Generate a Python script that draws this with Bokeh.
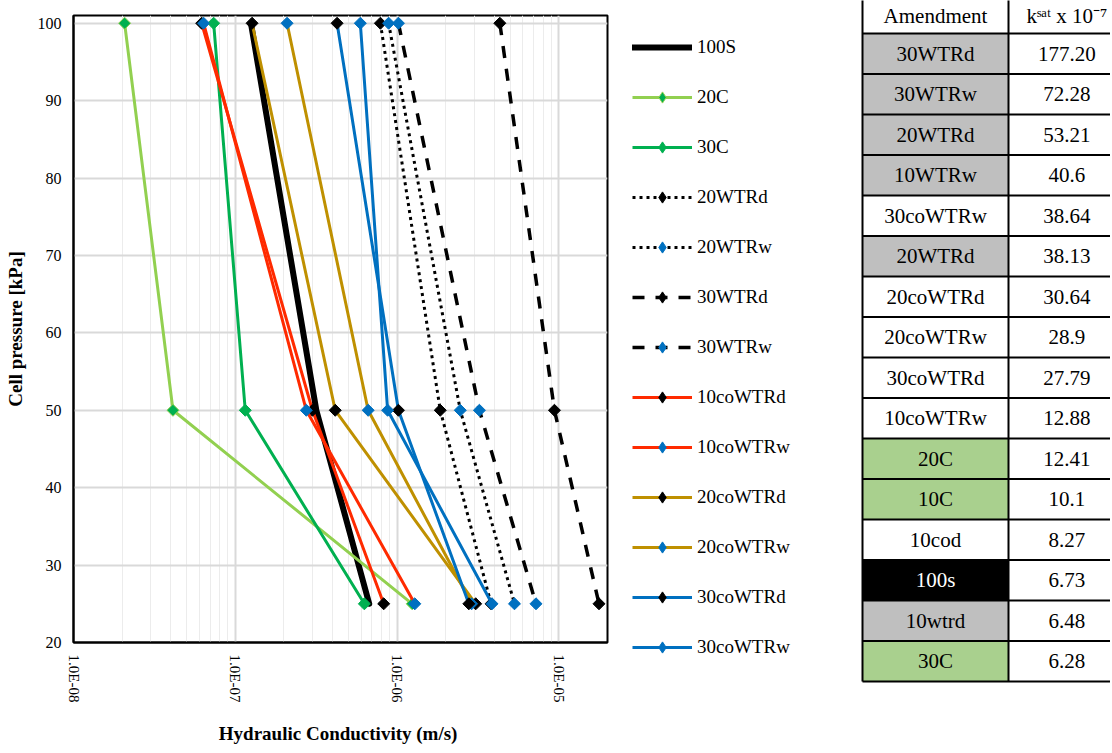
import numpy as np
from bokeh.plotting import figure
from bokeh.models import (Range1d, FixedTicker, CustomJSTickFormatter, Legend,
                          LegendItem, ColumnDataSource)
from bokeh.layouts import row, column
from bokeh.embed import file_html
from bokeh.resources import INLINE
from bokeh.core.properties import value

# ---------------- data ----------------
pressure = [100, 50, 25]  # kPa

series_names = ["100S", "20C", "30C", "20WTRd", "20WTRw", "30WTRd", "30WTRw",
                "10coWTRd", "10coWTRw", "20coWTRd", "20coWTRw", "30coWTRd", "30coWTRw"]

k_100S = [1.25e-7, 3.17e-7, 6.73e-7]
k_20C = [2.07e-8, 4.12e-8, 1.241e-6]
k_30C = [7.35e-8, 1.153e-7, 6.28e-7]
k_20WTRd = [7.89e-7, 1.85e-6, 3.813e-6]
k_20WTRw = [8.87e-7, 2.46e-6, 5.321e-6]
k_30WTRd = [4.32e-6, 9.4e-6, 1.772e-5]
k_30WTRw = [1.02e-6, 3.23e-6, 7.228e-6]
k_10coWTRd = [6.2e-8, 3.0e-7, 8.27e-7]
k_10coWTRw = [6.37e-8, 2.75e-7, 1.288e-6]
k_20coWTRd = [1.27e-7, 4.15e-7, 3.064e-6]
k_20coWTRw = [2.09e-7, 6.63e-7, 2.89e-6]
k_30coWTRd = [4.26e-7, 1.02e-6, 2.779e-6]
k_30coWTRw = [5.93e-7, 8.75e-7, 3.864e-6]

series_values = [k_100S, k_20C, k_30C, k_20WTRd, k_20WTRw, k_30WTRd, k_30WTRw,
                 k_10coWTRd, k_10coWTRw, k_20coWTRd, k_20coWTRw, k_30coWTRd, k_30coWTRw]

y_ticks = [20, 30, 40, 50, 60, 70, 80, 90, 100]
x_ticks = [1e-8, 1e-7, 1e-6, 1e-5]

table_amendment = ["30WTRd", "30WTRw", "20WTRd", "10WTRw", "30coWTRw", "20WTRd",
                   "20coWTRd", "20coWTRw", "30coWTRd", "10coWTRw", "20C", "10C",
                   "10cod", "100s", "10wtrd", "30C"]
table_ksat = ["177.20", "72.28", "53.21", "40.6", "38.64", "38.13", "30.64", "28.9",
              "27.79", "12.88", "12.41", "10.1", "8.27", "6.73", "6.48", "6.28"]
table_group = ["gray", "gray", "gray", "gray", "none", "gray", "none", "none", "none",
               "none", "green", "green", "none", "black", "gray", "green"]

# ---------------- styles ----------------
BLACK = "#000000"
LGREEN = "#92D050"
GREEN = "#00B050"
RED = "#FF2A00"
GOLD = "#BF9000"
BLUE = "#0070C0"

styles = {
    "100S":     dict(color=BLACK, width=6, dash="solid", mfill=None, mline=None),
    "20C":      dict(color=LGREEN, width=3, dash="solid", mfill=GREEN, mline=LGREEN),
    "30C":      dict(color=GREEN, width=3, dash="solid", mfill=GREEN, mline=GREEN),
    "20WTRd":   dict(color=BLACK, width=3, dash="3 4", mfill=BLACK, mline=BLACK),
    "20WTRw":   dict(color=BLACK, width=3, dash="3 4", mfill=BLUE, mline=BLUE),
    "30WTRd":   dict(color=BLACK, width=3.5, dash="12 11", mfill=BLACK, mline=BLACK),
    "30WTRw":   dict(color=BLACK, width=3.5, dash="12 11", mfill=BLUE, mline=BLUE),
    "10coWTRd": dict(color=RED, width=3, dash="solid", mfill=BLACK, mline=BLACK),
    "10coWTRw": dict(color=RED, width=3, dash="solid", mfill=BLUE, mline=BLUE),
    "20coWTRd": dict(color=GOLD, width=3, dash="solid", mfill=BLACK, mline=BLACK),
    "20coWTRw": dict(color=GOLD, width=3, dash="solid", mfill=BLUE, mline=BLUE),
    "30coWTRd": dict(color=BLUE, width=3, dash="solid", mfill=BLACK, mline=BLACK),
    "30coWTRw": dict(color=BLUE, width=3, dash="solid", mfill=BLUE, mline=BLUE),
}
fill_colors = {"gray": "#BFBFBF", "green": "#A9D08E", "black": "#000000", "none": "#FFFFFF"}
text_colors = {"gray": "#000000", "green": "#000000", "black": "#FFFFFF", "none": "#000000"}

SERIF = "Liberation Serif"

FIG_H = 750
MAIN_W = 612
LEG_W = 243
TAB_W = 255
BORDER_TOP = 15
BORDER_BOTTOM = 108
BORDER_LEFT = 73
FRAME_W = 534
ROW_PX = 40.5          # table row height in pixels
HEADER_LINE_PX = 33    # header bottom border, px from top


def line_kwargs(name):
    st = styles[name]
    return dict(line_color=st["color"], line_width=st["width"], line_dash=st["dash"],
                line_cap="round" if name == "100S" else "butt", line_join="round")


# ---------------- main chart ----------------
p = figure(width=MAIN_W, height=FIG_H, x_axis_type="log",
           x_range=Range1d(1e-8, 2e-5), y_range=Range1d(20, 101),
           toolbar_location=None, output_backend="svg",
           min_border_left=BORDER_LEFT, min_border_top=BORDER_TOP,
           min_border_right=MAIN_W - BORDER_LEFT - FRAME_W,
           min_border_bottom=BORDER_BOTTOM)

p.outline_line_color = "black"
p.outline_line_width = 2

p.yaxis.ticker = FixedTicker(ticks=y_ticks)
minor = [m * d for d in x_ticks for m in range(2, 10) if m * d <= 2e-5]
p.xaxis.ticker = FixedTicker(ticks=x_ticks, minor_ticks=minor)
p.xaxis.formatter = CustomJSTickFormatter(code="""
const s = tick.toExponential(1);
const parts = s.split('e');
const n = parseInt(parts[1]);
const a = Math.abs(n);
return parts[0] + 'E' + (n < 0 ? '-' : '+') + (a < 10 ? '0' : '') + a;
""")
p.xaxis.major_label_orientation = "vertical"

for ax in (p.xaxis, p.yaxis):
    ax.axis_line_color = "black"
    ax.axis_line_width = 2
    ax.major_tick_line_color = None
    ax.minor_tick_line_color = None
    ax.major_tick_out = 0
    ax.major_tick_in = 0
    ax.minor_tick_out = 0
    ax.major_label_text_font = SERIF
    ax.major_label_text_color = "#000000"
    ax.axis_label_text_font = SERIF
    ax.axis_label_text_font_style = "bold"
    ax.axis_label_text_font_size = "19px"
    ax.axis_label_text_color = "#000000"

p.yaxis.major_label_text_font_size = "16px"
p.xaxis.major_label_text_font_size = "15px"
p.yaxis.major_label_standoff = 12
p.xaxis.major_label_standoff = 12
p.yaxis.axis_label = "Cell pressure [kPa]"
p.yaxis.axis_label_standoff = 9
p.xaxis.axis_label = "Hydraulic Conductivity  (m/s)"
p.xaxis.axis_label_standoff = 18

p.xgrid.grid_line_color = "#D9D9D9"
p.xgrid.grid_line_width = 2
p.xgrid.minor_grid_line_color = "#ECECEC"
p.xgrid.minor_grid_line_width = 1
p.ygrid.grid_line_color = "#D9D9D9"
p.ygrid.grid_line_width = 2

for name, vals in zip(series_names, series_values):
    st = styles[name]
    src = ColumnDataSource(dict(k=vals, p=pressure))
    p.line("k", "p", source=src, **line_kwargs(name))
    if st["mfill"] is not None:
        p.scatter("k", "p", source=src, marker="square", angle=np.pi / 4,
                  size=8.5, fill_color=st["mfill"], line_color=st["mline"],
                  line_width=1)

# ---------------- legend panel ----------------
lf = figure(width=LEG_W, height=FIG_H, x_range=Range1d(0, 1), y_range=Range1d(0, 1),
            toolbar_location=None, output_backend="svg",
            x_axis_location=None, y_axis_location=None, min_border=0)
lf.grid.visible = False
lf.outline_line_color = None

items = []
for name in series_names:
    st = styles[name]
    rends = [lf.line(x=[np.nan, np.nan], y=[np.nan, np.nan], **line_kwargs(name))]
    if st["mfill"] is not None:
        rends.append(lf.scatter(x=[np.nan], y=[np.nan], marker="diamond",
                                fill_color=st["mfill"], line_color=st["mline"],
                                line_width=1))
    items.append(LegendItem(label=name, renderers=rends))

GLYPH_H = 28
ITEM_PITCH = 50
n_items = len(items)
leg_h = n_items * GLYPH_H + (n_items - 1) * (ITEM_PITCH - GLYPH_H)
leg_top = 47 - GLYPH_H / 2
legend = Legend(items=items, orientation="vertical",
                location=(20, FIG_H - leg_top - leg_h))
legend.glyph_width = 60
legend.glyph_height = GLYPH_H
legend.label_height = GLYPH_H
legend.spacing = ITEM_PITCH - GLYPH_H
legend.margin = 0
legend.padding = 0
legend.label_standoff = 5
legend.label_text_font = SERIF
legend.label_text_font_size = "19px"
legend.label_text_color = "#000000"
legend.border_line_color = None
legend.background_fill_alpha = 0
lf.add_layout(legend)

# ---------------- table ----------------
n_rows = len(table_amendment)
col_w1 = 1.0
col_w2 = 0.8
y_top = -HEADER_LINE_PX / ROW_PX
t = figure(width=TAB_W, height=FIG_H,
           x_range=Range1d(-7 / 146, -7 / 146 + TAB_W / 146),
           y_range=Range1d(y_top + FIG_H / ROW_PX, y_top),
           toolbar_location=None, output_backend="svg",
           x_axis_location=None, y_axis_location=None, min_border=0)
t.grid.visible = False
t.outline_line_color = None

rows_idx = np.arange(n_rows)
tsrc = ColumnDataSource(dict(
    top=rows_idx, bottom=rows_idx + 1, mid=rows_idx + 0.5,
    amend=table_amendment, ksat=table_ksat,
    fill=[fill_colors[g] for g in table_group],
    tcol=[text_colors[g] for g in table_group],
))
t.quad(left=0, right=col_w1, top="top", bottom="bottom", source=tsrc,
       fill_color="fill", line_color=None)

h_y = list(range(-1, n_rows + 1))
t.segment(x0=0, x1=col_w1 + col_w2, y0=h_y, y1=h_y, line_color="black", line_width=2)
t.segment(x0=[0, col_w1], x1=[0, col_w1], y0=-1.5, y1=n_rows, line_color="black", line_width=2)

t.text(x=col_w1 / 2, y="mid", text="amend", source=tsrc, text_color="tcol",
       text_align="center", text_baseline="middle",
       text_font=value(SERIF), text_font_size="21px")
t.text(x=col_w1 + col_w2 / 2, y="mid", text="ksat", source=tsrc, text_color="#000000",
       text_align="center", text_baseline="middle",
       text_font=value(SERIF), text_font_size="21px")
t.text(x=[col_w1 / 2, col_w1 + col_w2 / 2], y=[y_top + 15 / ROW_PX] * 2,
       text=["Amendment", "kˢᵃᵗ x 10⁻⁷"],
       text_align="center", text_baseline="middle",
       text_font=value(SERIF), text_font_size="21px", text_color="#000000")

layout = row(p, column(lf), column(t))
open("out.html", "w").write(file_html(layout, INLINE))
